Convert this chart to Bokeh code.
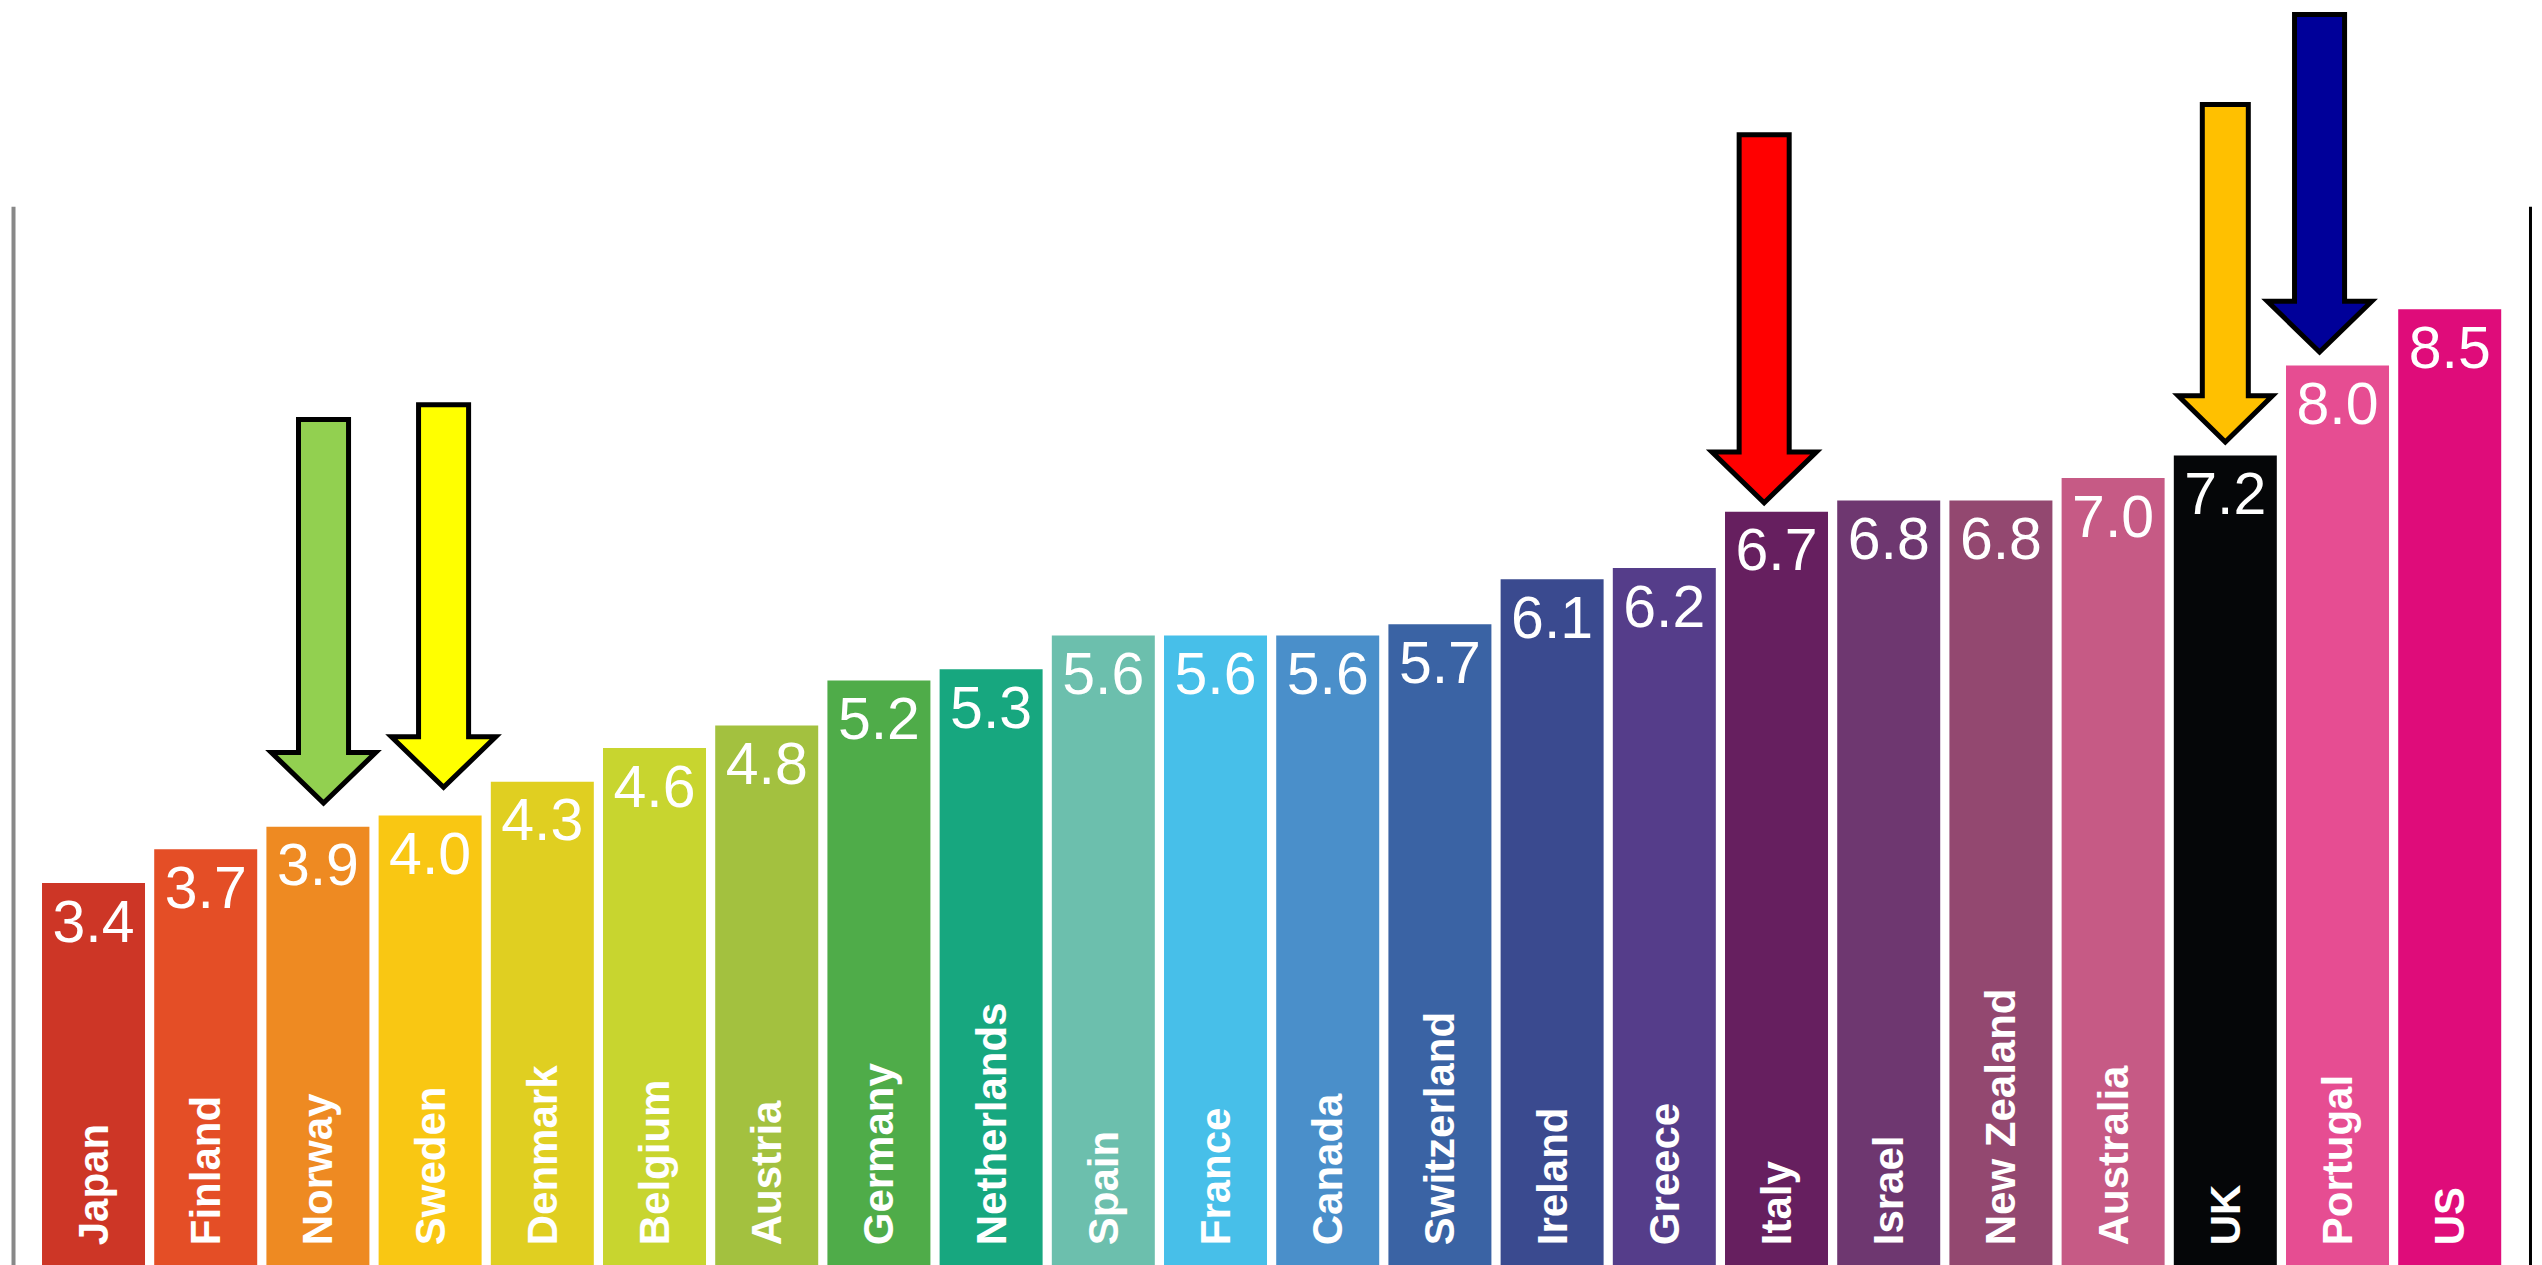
from math import pi

from bokeh.core.properties import value
from bokeh.embed import file_html
from bokeh.models import ColumnDataSource, Range1d
from bokeh.plotting import figure
from bokeh.resources import INLINE

# Country values, sorted low to high
countries = ["Japan", "Finland", "Norway", "Sweden", "Denmark", "Belgium", "Austria",
             "Germany", "Netherlands", "Spain", "France", "Canada", "Switzerland",
             "Ireland", "Greece", "Italy", "Israel", "New Zealand", "Australia",
             "UK", "Portugal", "US"]
rates = [3.4, 3.7, 3.9, 4.0, 4.3, 4.6, 4.8, 5.2, 5.3, 5.6, 5.6, 5.6, 5.7,
         6.1, 6.2, 6.7, 6.8, 6.8, 7.0, 7.2, 8.0, 8.5]
bar_colors = ["#CD3626", "#E44E26", "#EE8A22", "#F9C713", "#E0CF21", "#C8D52F",
              "#A3C13F", "#4FAC49", "#17A77F", "#6CBFAD", "#47BFE9", "#4A8FCA",
              "#3A63A4", "#3A4A8F", "#553D8A", "#661F5F", "#6E3770", "#934870",
              "#C65A85", "#050608", "#E64D92", "#DF0C7A"]

# Highlighted countries, marked with block arrows
arrow_countries = ["Norway", "Sweden", "Italy", "UK", "Portugal"]
arrow_colors = ["#92D050", "#FFFF00", "#FF0000", "#FFC000", "#000099"]
arrow_shift = [0.05, 0.12, -0.11, 0.0, -0.16]     # horizontal nudge, bar units
arrow_gap = [0.21, 0.25, 0.08, 0.12, 0.12]        # space between tip and bar top
arrow_top = [7.52, 7.65, 10.05, 10.32, 11.12]     # top of the shaft
arrow_shaft = [0.223, 0.223, 0.223, 0.205, 0.223]  # half width of shaft
arrow_head = [0.465, 0.465, 0.465, 0.42, 0.465]    # half width of head
arrow_head_len = [0.45, 0.45, 0.45, 0.41, 0.45]

idx = list(range(len(countries)))
src = ColumnDataSource(dict(
    x=idx,
    rate=rates,
    color=bar_colors,
    country=countries,
    label=[f"{r:.1f}" for r in rates],
    label_y=[r - 0.34 for r in rates],
    name_y=[0.18] * len(rates),
))

p = figure(width=2542, height=1265, output_backend="svg", toolbar_location=None,
           x_range=Range1d(-0.829, 21.827), y_range=Range1d(0, 11.244),
           x_axis_location=None, y_axis_location=None,
           min_border=0, min_border_left=0, min_border_right=0,
           min_border_top=0, min_border_bottom=0)
p.grid.visible = False
p.outline_line_color = None
p.background_fill_color = "white"
p.border_fill_color = "white"

# Frame rules on each side
p.segment(x0=[-0.713], y0=[0], x1=[-0.713], y1=[9.41], line_color="#888888", line_width=4)
p.segment(x0=[21.72], y0=[0], x1=[21.72], y1=[9.41], line_color="#000000", line_width=3)

p.vbar(x="x", top="rate", bottom=0, width=0.918, fill_color="color",
       line_color=None, source=src)

p.text(x="x", y="label_y", text="label", source=src,
       text_align="center", text_baseline="alphabetic",
       text_font=value("Liberation Sans"), text_font_size="59px", text_color="white")

p.text(x="x", y="name_y", text="country", source=src, angle=pi / 2,
       text_align="left", text_baseline="middle",
       text_font=value("Liberation Sans"), text_font_style="bold",
       text_font_size="42px", text_color="white")

# Block arrows pointing down at the highlighted bars
axs, ays = [], []
for name, dx, gap, top, sw, hw, hl in zip(arrow_countries, arrow_shift, arrow_gap,
                                           arrow_top, arrow_shaft, arrow_head,
                                           arrow_head_len):
    i = countries.index(name)
    cx = i + dx
    tip = rates[i] + gap
    axs.append([cx - sw, cx + sw, cx + sw, cx + hw, cx, cx - hw, cx - sw])
    ays.append([top, top, tip + hl, tip + hl, tip, tip + hl, tip + hl])

p.patches(xs=axs, ys=ays, fill_color=arrow_colors, line_color="black",
          line_width=5, line_join="miter")

open("out.html", "w").write(file_html(p, INLINE))
